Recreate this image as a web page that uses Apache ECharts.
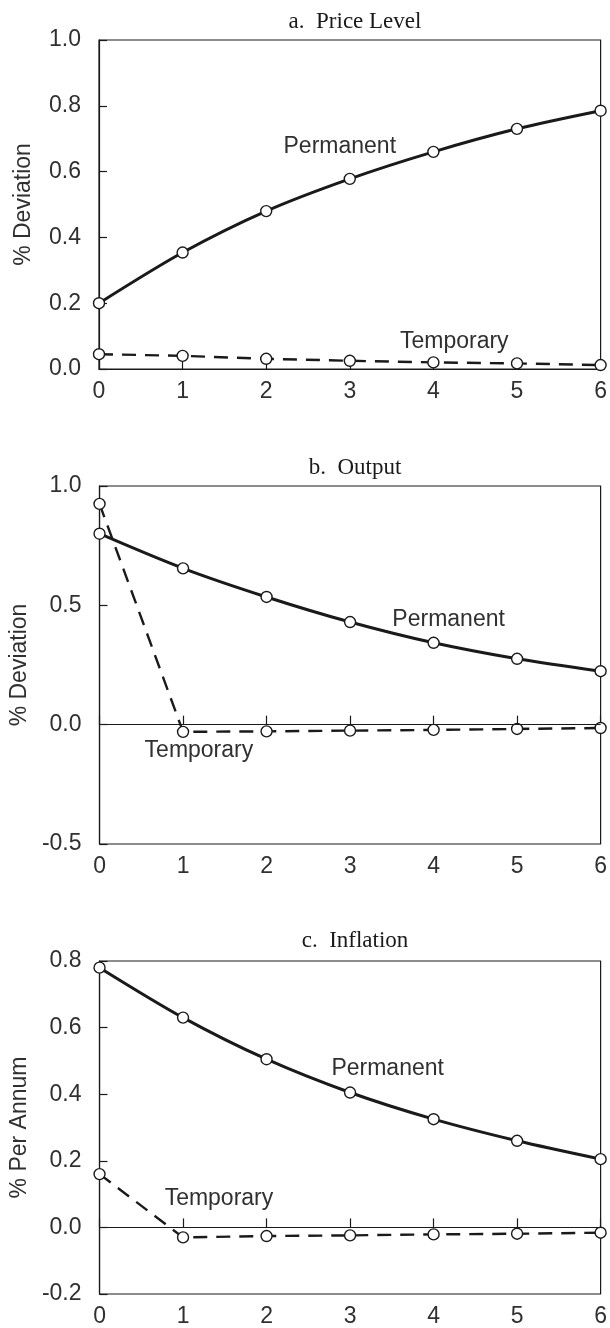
<!DOCTYPE html>
<html>
<head>
<meta charset="utf-8">
<script src="https://cdn.jsdelivr.net/npm/echarts@6/dist/echarts.min.js"></script>
<style>
  html, body { margin: 0; padding: 0; background: #fff; }
  #chart { width: 610px; height: 1328px; }
</style>
</head>
<body>
<div id="chart"></div>
<script>
// ---- data ----
const periods = [0, 1, 2, 3, 4, 5, 6];
const panelTitles = ['a.  Price Level', 'b.  Output', 'c.  Inflation'];
const yAxisNames = ['% Deviation', '% Deviation', '% Per Annum'];

const pricePermanent = [0.20, 0.354, 0.48, 0.578, 0.66, 0.73, 0.785];
const priceTemporary = [0.045, 0.040, 0.031, 0.025, 0.020, 0.017, 0.012];

const outputPermanent = [0.80, 0.655, 0.535, 0.43, 0.343, 0.276, 0.224];
const outputTemporary = [0.925, -0.030, -0.028, -0.025, -0.022, -0.018, -0.014];

const inflationPermanent = [0.78, 0.63, 0.505, 0.405, 0.325, 0.26, 0.205];
const inflationTemporary = [0.16, -0.030, -0.026, -0.024, -0.021, -0.019, -0.016];

const priceTicks = { min: 0, max: 1.0, interval: 0.2 };
const outputTicks = { min: -0.5, max: 1.0, interval: 0.5 };
const inflationTicks = { min: -0.2, max: 0.8, interval: 0.2 };

// annotation positions in data units [x, y]
const labelPermanent = [[2.88, 0.675], [4.18, 0.438], [3.45, 0.477]];
const labelTemporary = [[4.25, 0.082], [1.19, -0.109], [1.43, 0.087]];

// ---- layout ----
const grids = [
  { left: 99, right: 7, top: 40, height: 329 },
  { left: 99, right: 7, top: 486, height: 358 },
  { left: 99, right: 7, top: 961, height: 333 }
];
const titleTops = [5, 451, 924];

const ink = '#1a1a1a';
const textInk = '#303030';
const sans = 'Liberation Sans, Arial, Helvetica, sans-serif';

const pairs = arr => periods.map((x, i) => [x, arr[i]]);
const permSets = [pricePermanent, outputPermanent, inflationPermanent];
const tempSets = [priceTemporary, outputTemporary, inflationTemporary];
const tickSets = [priceTicks, outputTicks, inflationTicks];

const option = {
  animation: false,
  backgroundColor: '#fff',
  title: panelTitles.map((t, i) => ({
    text: t,
    left: 350,
    top: titleTops[i],
    textAlign: 'center',
    textStyle: { fontFamily: 'Liberation Serif, Times New Roman, serif', fontSize: 23, fontWeight: 'normal', color: ink }
  })),
  grid: grids.map(g => Object.assign({ show: true, borderColor: ink, borderWidth: 1.2, backgroundColor: 'transparent' }, g)),
  xAxis: grids.map((g, i) => ({
    type: 'value',
    gridIndex: i,
    min: 0, max: 6, interval: 1,
    axisLine: { show: true, lineStyle: { color: ink, width: 1.2 } },
    axisTick: { show: true, inside: true, length: 9, lineStyle: { color: ink, width: 1.2 } },
    axisLabel: { margin: 11, fontFamily: sans, fontSize: 23, color: textInk },
    splitLine: { show: false }
  })),
  yAxis: grids.map((g, i) => ({
    type: 'value',
    gridIndex: i,
    min: tickSets[i].min, max: tickSets[i].max, interval: tickSets[i].interval,
    name: yAxisNames[i],
    nameLocation: 'middle',
    nameGap: 64,
    nameTextStyle: { fontFamily: sans, fontSize: 23, color: textInk },
    axisLine: { show: true, lineStyle: { color: ink, width: 1.2 } },
    axisTick: { show: true, inside: true, length: 8, lineStyle: { color: ink, width: 1.2 } },
    axisLabel: {
      margin: 18, fontFamily: sans, fontSize: 23, color: textInk,
      padding: [0, 0, 10, 0],
      formatter: v => v.toFixed(1)
    },
    splitLine: { show: false }
  })),
  series: []
};

for (let i = 0; i < 3; i++) {
  const temp = {
    type: 'line',
    name: 'Temporary',
    xAxisIndex: i, yAxisIndex: i,
    data: pairs(tempSets[i]),
    symbol: 'circle', symbolSize: 11, showAllSymbol: true,
    lineStyle: { color: ink, width: 2.4, type: [14, 9] },
    itemStyle: { color: '#fff', borderColor: ink, borderWidth: 1.4 },
    emphasis: { disabled: true },
    z: 3,
    markPoint: {
      silent: true,
      symbol: 'circle', symbolSize: 0,
      label: { show: true, position: 'inside', formatter: 'Temporary', fontFamily: sans, fontSize: 23, color: textInk },
      data: [{ coord: labelTemporary[i] }]
    }
  };
  if (i > 0) {
    temp.markLine = {
      silent: true,
      symbol: 'none',
      label: { show: false },
      lineStyle: { color: ink, width: 1, type: 'solid' },
      data: [{ yAxis: 0 }]
    };
  }
  const perm = {
    type: 'line',
    name: 'Permanent',
    xAxisIndex: i, yAxisIndex: i,
    data: pairs(permSets[i]),
    smooth: 0.3,
    symbol: 'circle', symbolSize: 11, showAllSymbol: true,
    lineStyle: { color: ink, width: 3 },
    itemStyle: { color: '#fff', borderColor: ink, borderWidth: 1.4 },
    emphasis: { disabled: true },
    z: 4,
    markPoint: {
      silent: true,
      symbol: 'circle', symbolSize: 0,
      label: { show: true, position: 'inside', formatter: 'Permanent', fontFamily: sans, fontSize: 23, color: textInk },
      data: [{ coord: labelPermanent[i] }]
    }
  };
  option.series.push(temp, perm);
}

const chart = echarts.init(document.getElementById('chart'), null, { renderer: 'canvas' });
chart.setOption(option);
</script>
</body>
</html>
